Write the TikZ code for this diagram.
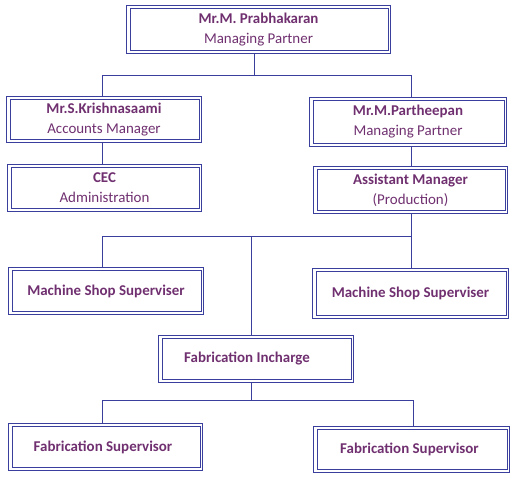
\documentclass[tikz,border=0pt]{standalone}
\usepackage{fontspec}
\setmainfont{Carlito}
\definecolor{txtpurple}{RGB}{112,48,112}
\definecolor{lineblue}{RGB}{58,62,156}
\begin{document}
\begin{tikzpicture}[x=1bp,y=-1bp,
  box/.style={draw=lineblue, line width=0.95bp,
    minimum width=#1, inner sep=0pt, align=center,
    text=txtpurple, font=\fontsize{15}{20}\selectfont},
  inner/.style={draw=lineblue, line width=0.95bp},
  link/.style={draw=lineblue, line width=0.95bp}]
\useasboundingbox[fill=white] (0,0) rectangle (520,481);
% bus coordinates
\coordinate (b1M) at (254,75);
\coordinate (b1L) at (102,75);
\coordinate (b1R) at (411,75);
\coordinate (b2M) at (251,236);
\coordinate (b2L) at (102,236);
\coordinate (b2R) at (411,236);
\coordinate (b3M) at (251,400);
\coordinate (b3L) at (102,400);
\coordinate (b3R) at (413,400);
% boxes
\node[box=264bp, minimum height=48bp] (top) at (258.5,29.5) {\textbf{Mr.M. Prabhakaran}\\Managing Partner};
\node[box=195bp, minimum height=46bp] (kri) at (104,119.5) {\textbf{Mr.S.Krishnasaami}\\Accounts Manager};
\node[box=194bp, minimum height=47bp] (cec) at (104.5,188) {\textbf{CEC}\\Administration};
\node[box=197bp, minimum height=49bp] (par) at (408,122) {\textbf{Mr.M.Partheepan}\\Managing Partner};
\node[box=194bp, minimum height=47bp] (asst) at (410.5,190) {\textbf{Assistant Manager}\\(Production)};
\node[box=195bp, minimum height=47bp] (ms1) at (106,291) {\textbf{Machine Shop Superviser}};
\node[box=196bp, minimum height=50bp] (ms2) at (410.5,293.5) {\textbf{Machine Shop Superviser}};
\node[box=195bp, minimum height=47bp] (fab) at (256,359) {\textbf{Fabrication Incharge}\hspace*{18bp}};
\node[box=194bp, minimum height=47bp] (fs1) at (105.5,447) {\textbf{Fabrication Supervisor}\hspace*{5bp}};
\node[box=196bp, minimum height=46bp] (fs2) at (411.5,449.5) {\textbf{Fabrication Supervisor}\hspace*{4bp}};
% inner frames of the double borders
\foreach \n in {top,kri,cec,par,asst,ms1,ms2,fab,fs1,fs2}{
  \draw[inner] ([shift={(4,3.5)}]\n.north west) rectangle ([shift={(-3,-3.5)}]\n.south east);
}
% connectors
\draw[link] (top.south -| b1M) -- (b1M);
\draw[link] (kri.north -| b1L) -- (b1L) -- (b1R) -- (par.north -| b1R);
\draw[link] (kri.south -| b1L) -- (cec.north -| b1L);
\draw[link] (par.south -| b1R) -- (asst.north -| b1R);
\draw[link] (asst.south -| b2R) -- (b2R) -- (b2L) -- (ms1.north -| b2L);
\draw[link] (b2R) -- (ms2.north -| b2R);
\draw[link] (b2M) -- (fab.north -| b2M);
\draw[link] (fab.south -| b3M) -- (b3M);
\draw[link] (fs1.north -| b3L) -- (b3L) -- (b3R) -- (fs2.north -| b3R);
\end{tikzpicture}
\end{document}
